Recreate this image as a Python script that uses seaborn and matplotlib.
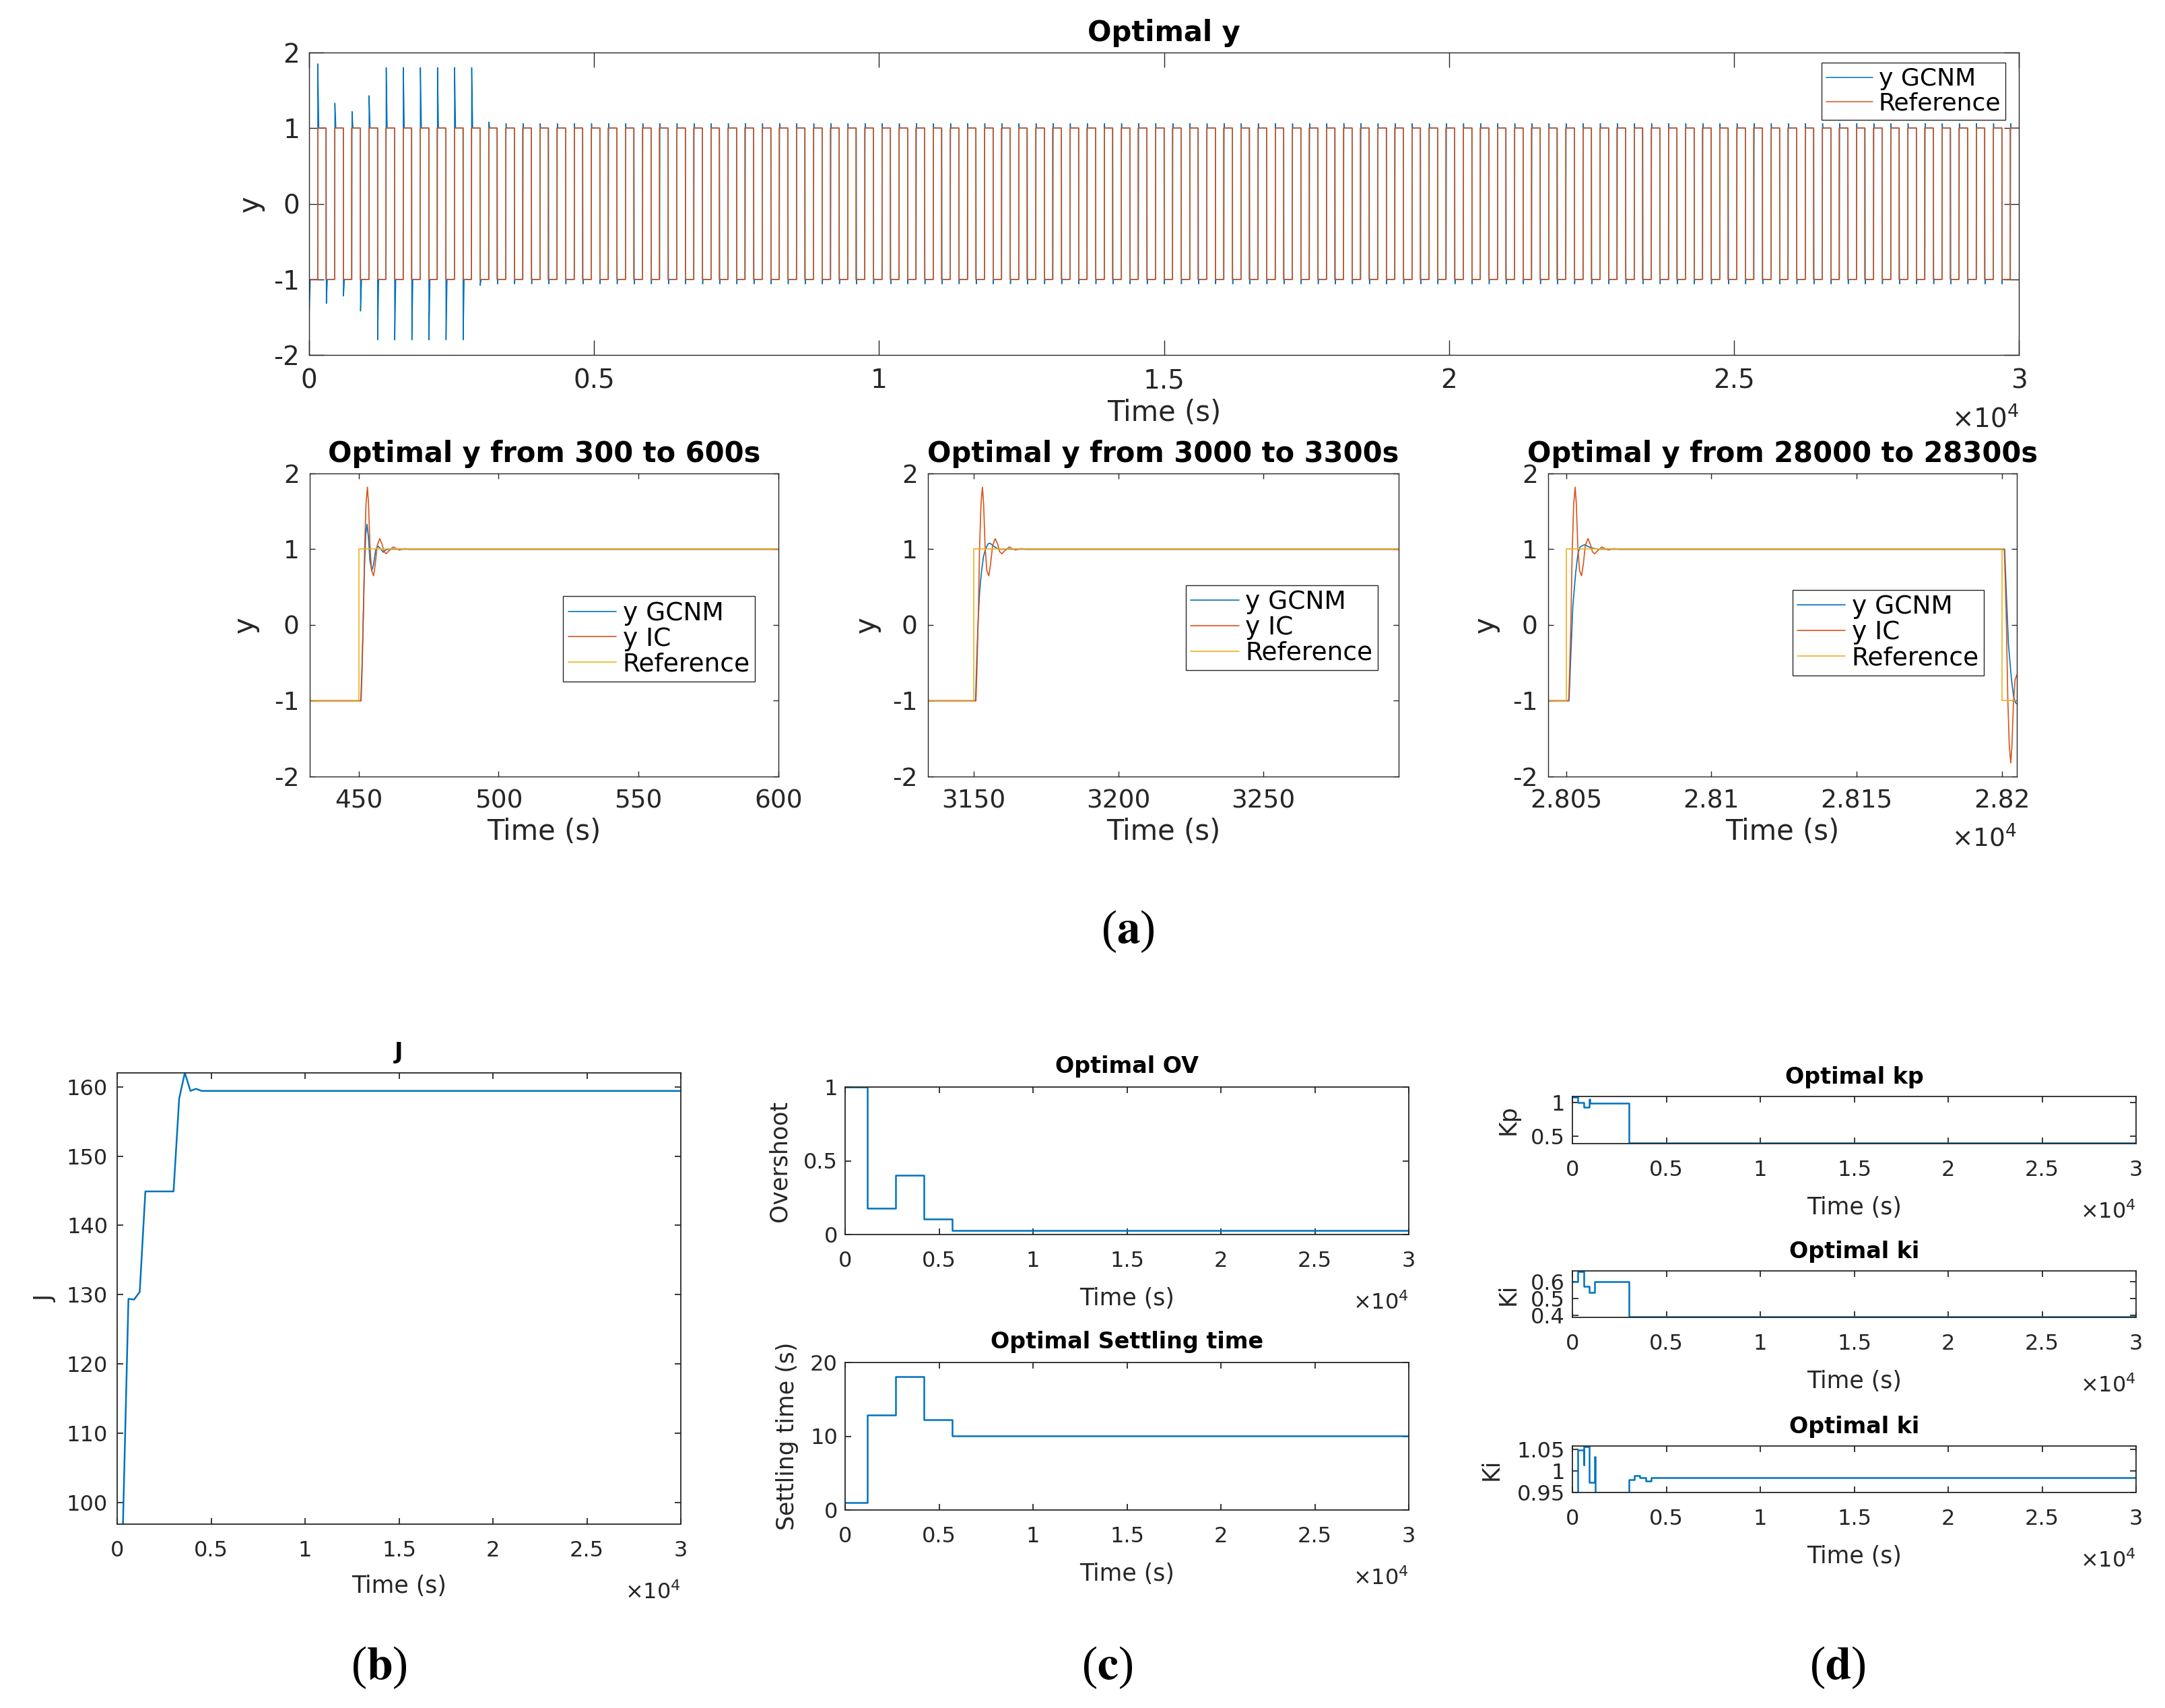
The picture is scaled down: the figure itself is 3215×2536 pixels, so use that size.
import numpy as np
import pandas as pd
import seaborn as sns
import matplotlib.pyplot as plt

BLUE, ORANGE, YELLOW = "#0072BD", "#D95319", "#EDB120"
INK = "#262626"

# ---------------- data ----------------
# reference: square wave starting at -1, toggling every 150 s, up to 30000 s
ref_switch_every = 150
ref_t_end = 30000
ref_first_level = -1

# y GCNM overshoot seen at the switches 150 s, 300 s, ..., 3150 s (top panel)
gcnm_overshoot_early = [0.85, 0.32, 0.33, 0.22, 0.22, 0.42, 0.43,
                        0.80, 0.80, 0.80, 0.80, 0.80, 0.80,
                        0.80, 0.80, 0.80, 0.80, 0.80, 0.80,
                        0.08, 0.08]
gcnm_start = [0.0, -1.43]          # value at t=0 and first undershoot

# step responses: seconds after a -1 -> +1 switch, output value
ic_dt = [0.0, 0.86, 1.2, 1.6, 2.1, 2.6, 3.1, 3.5, 4.0, 4.6, 5.3, 5.9, 6.6,
         7.5, 8.4, 9.0, 9.8, 10.8, 12.3, 13.3, 14.5, 16.5, 18.0]
ic_y = [-1.0, -1.0, -0.6, 0.0, 1.0, 1.6, 1.82, 1.6, 1.05, 0.72, 0.65, 0.8,
        1.05, 1.14, 1.06, 0.97, 0.94, 0.98, 1.03, 1.01, 0.99, 1.01, 1.0]

gcnm450_dt = [0.0, 0.74, 1.2, 1.6, 2.0, 2.5, 2.95, 3.5, 4.0, 4.67, 5.3, 6.1,
              7.0, 7.9, 8.8, 9.6, 10.5]
gcnm450_y = [-1.0, -1.0, -0.5, 0.1, 0.7, 1.2, 1.33, 1.15, 0.85, 0.72, 0.8,
             1.0, 1.04, 1.0, 0.96, 0.99, 1.0]

gcnm3150_dt = [0.0, 0.71, 1.1, 1.54, 2.13, 2.73, 3.44, 4.15, 5.0, 5.7, 7.0, 8.6]
gcnm3150_y = [-1.0, -1.0, -0.5, 0.0, 0.44, 0.69, 0.9, 1.0, 1.07, 1.08, 1.04, 1.0]

# late-run response (also used for every switch after 3150 s in the top panel)
gcnm28050_dt = [0.0, 1.0, 1.6, 2.3, 3.3, 4.1, 4.8, 6.3, 8.5, 11.0]
gcnm28050_y = [-1.0, -1.0, -0.4, 0.25, 0.7, 0.95, 1.03, 1.06, 1.02, 1.0]

zoom_windows = [(300, 600), (3000, 3300), (28000, 28300)]
zoom_switches = [[450], [3150], [28050, 28200]]
zoom_titles = ["Optimal y from 300 to 600s", "Optimal y from 3000 to 3300s",
               "Optimal y from 28000 to 28300s"]
zoom_xticks = [[450, 500, 550, 600], [3150, 3200, 3250],
               [28050, 28100, 28150, 28200]]
zoom_xticklabels = [["450", "500", "550", "600"], ["3150", "3200", "3250"],
                    ["2.805", "2.81", "2.815", "2.82"]]

# cost J (updated every cycle)
J_t = [300, 600, 900, 1200, 1500, 3000, 3300, 3600, 3900, 4200, 4500, 30000]
J_v = [96.0, 129.4, 129.3, 130.4, 144.9, 144.9, 158.3, 162.0, 159.4, 159.7,
       159.4, 159.4]

# stair signals
ov_t = [0, 1200, 2700, 4200, 5700, 30000]
ov_v = [1.0, 0.178, 0.40, 0.107, 0.029, 0.029]
st_t = [0, 1200, 2700, 4200, 5700, 30000]
st_v = [1.0, 12.85, 18.1, 12.2, 10.05, 10.05]
kp_t = [0, 300, 600, 900, 930, 3000, 30000]
kp_v = [1.08, 1.0, 0.93, 1.05, 0.99, 0.40, 0.40]
ki_t = [0, 300, 600, 900, 1200, 3000, 30000]
ki_v = [0.60, 0.66, 0.57, 0.535, 0.60, 0.393, 0.393]
ki2_t = [0, 300, 600, 620, 900, 1200, 1220, 3000, 3300, 3600, 3900, 4200, 30000]
ki2_v = [0.95, 1.048, 1.014, 1.057, 0.973, 1.033, 0.95, 0.980, 0.989, 0.984,
         0.977, 0.984, 0.984]

big_ticks = [0, 5000, 10000, 15000, 20000, 25000, 30000]
big_ticklabels = ["0", "0.5", "1", "1.5", "2", "2.5", "3"]


# ---------------- build series ----------------
def level_at(t):
    k = int(np.floor(t / ref_switch_every + 1e-9))
    return ref_first_level * (-1) ** k


def ref_series(t0, t1):
    ts, ys = [t0], [level_at(t0)]
    t = (t0 // ref_switch_every + 1) * ref_switch_every
    while t < t1:
        ts += [t, t]
        ys += [-level_at(t), level_at(t)]
        t += ref_switch_every
    ts.append(t1)
    ys.append(ys[-1])
    return ts, ys


def response_series(t0, t1, switches, dt, yy):
    ts, ys = [t0], [-level_at(switches[0])]
    for s in switches:
        sign = level_at(s)
        ts += [s + d for d in dt]
        ys += [sign * v for v in yy]
    ts.append(t1)
    ys.append(level_at(switches[-1]))
    return ts, ys


# top panel y GCNM
top_t = [0, 3, 20]
top_y = [gcnm_start[0], gcnm_start[1], ref_first_level]
for k in range(1, ref_t_end // ref_switch_every):
    t0 = k * ref_switch_every
    lev = level_at(t0)
    if k - 1 < len(gcnm_overshoot_early):
        ov = gcnm_overshoot_early[k - 1]
        top_t += [t0, t0 + 3, t0 + 20]
        top_y += [-lev, lev * (1 + ov), lev]
    else:
        top_t += [t0 + d for d in gcnm28050_dt]
        top_y += [lev * v for v in gcnm28050_y]
top_t.append(ref_t_end)
top_y.append(top_y[-1])
top_df = pd.DataFrame({"t": top_t, "y": top_y})
rt, ry = ref_series(0, ref_t_end)
topref_df = pd.DataFrame({"t": rt, "y": ry})

# ---------------- figure ----------------
sns.set_theme(style="ticks")
plt.rcParams["font.family"] = ["DejaVu Sans"]
plt.rcParams["axes.unicode_minus"] = False
plt.rcParams["mathtext.fontset"] = "dejavusans"

W, H = 3215, 2536
fig = plt.figure(figsize=(W / 100, H / 100), dpi=100)
fig.patch.set_facecolor("white")


def px_axes(l, t, r, b):
    return fig.add_axes([l / W, 1 - b / H, (r - l) / W, (b - t) / H])


def style(ax, size, length, lw, xpad, ypad):
    ax.tick_params(direction="in", top=True, right=True, length=length,
                   width=lw, colors=INK, labelsize=size)
    ax.tick_params(axis="x", pad=xpad)
    ax.tick_params(axis="y", pad=ypad)
    for sp in ax.spines.values():
        sp.set_visible(True)
        sp.set_color(INK)
        sp.set_linewidth(lw)
    ax.set_facecolor("white")


def times_ten(ax, offset_px, size):
    ax.annotate(r"$\times10^{4}$", xy=(1.0, 0.0), xycoords="axes fraction",
                xytext=(0, -offset_px * 0.72), textcoords="offset points",
                ha="right", va="center", fontsize=size, color=INK)


def legend(ax, anchor, size):
    leg = ax.legend(loc="upper right", bbox_to_anchor=anchor, fontsize=size,
                    frameon=True, fancybox=False, edgecolor=INK, framealpha=1,
                    borderaxespad=0, handlelength=1.9, handletextpad=0.25,
                    borderpad=0.2, labelspacing=0.05)
    leg.get_frame().set_linewidth(1.0)
    for txt in leg.get_texts():
        txt.set_color("black")


def line(ax, t, y, color, lw, label=None, steps=False):
    kw = dict(drawstyle="steps-post") if steps else {}
    sns.lineplot(x=t, y=y, ax=ax, color=color, linewidth=lw, estimator=None,
                 sort=False, label=label, **kw)


# ---- (a) top: whole run ----
ax = px_axes(459, 78, 2998, 527)
line(ax, top_df["t"], top_df["y"], BLUE, 1.1, "y GCNM")
line(ax, topref_df["t"], topref_df["y"], ORANGE, 1.1, "Reference")
ax.set_xlim(0, 30000)
ax.set_ylim(-2, 2)
ax.set_xticks(big_ticks)
ax.set_xticklabels(big_ticklabels)
ax.set_yticks([-2, -1, 0, 1, 2])
ax.set_yticklabels(["-2", "-1", "0", "1", "2"])
style(ax, 28, 16, 1.0, 14, 10)
ax.set_title("Optimal y", fontsize=30, fontweight="bold", color="black", pad=12)
ax.set_xlabel("Time (s)", fontsize=30, color=INK)
ax.set_ylabel("y", fontsize=30, color=INK)
ax.xaxis.set_label_coords(0.5, -0.145)
ax.yaxis.set_label_coords(-0.026, 0.5)
ax.xaxis.label.set_va("top")
legend(ax, (0.9923, 0.966), 26)
times_ten(ax, 95, 28)

# ---- (a) zoomed windows ----
zoom_boxes = [(460, 703, 1156, 1153), (1378, 703, 2077, 1153), (2299, 703, 2995, 1153)]
zoom_xlims = [(432.5, 600), (3134.3, 3296.7), (28043.8, 28205.2)]
zoom_profiles = [(gcnm450_dt, gcnm450_y), (gcnm3150_dt, gcnm3150_y),
                 (gcnm28050_dt, gcnm28050_y)]
zoom_legend_anchor = [(0.950, 0.595), (0.955, 0.632), (0.930, 0.616)]
zoom_ylabel_x = [-0.108, -0.10, -0.104]
for i in range(3):
    ax = px_axes(*zoom_boxes[i])
    w0, w1 = zoom_windows[i]
    gt, gy = response_series(w0, w1, zoom_switches[i], *zoom_profiles[i])
    it, iy = response_series(w0, w1, zoom_switches[i], ic_dt, ic_y)
    rt, ry = ref_series(w0, w1)
    line(ax, gt, gy, BLUE, 1.2, "y GCNM")
    line(ax, it, iy, ORANGE, 1.2, "y IC")
    line(ax, rt, ry, YELLOW, 1.2, "Reference")
    ax.set_xlim(*zoom_xlims[i])
    ax.set_ylim(-2, 2)
    ax.set_xticks(zoom_xticks[i])
    ax.set_xticklabels(zoom_xticklabels[i])
    ax.set_yticks([-2, -1, 0, 1, 2])
    ax.set_yticklabels(["-2", "-1", "0", "1", "2"])
    style(ax, 27, 6, 1.0, 13, 11)
    ax.set_title(zoom_titles[i], fontsize=30, fontweight="bold", color="black", pad=12)
    ax.set_xlabel("Time (s)", fontsize=30, color=INK)
    ax.set_ylabel("y", fontsize=30, color=INK)
    ax.xaxis.set_label_coords(0.5, -0.135)
    ax.xaxis.label.set_va("top")
    ax.yaxis.set_label_coords(zoom_ylabel_x[i], 0.5)
    legend(ax, zoom_legend_anchor[i], 27)
    if i == 2:
        times_ten(ax, 92, 27)

# ---- (b) J ----
ax = px_axes(174, 1593, 1011, 2263)
line(ax, J_t, J_v, BLUE, 1.8)
ax.set_xlim(0, 30000)
ax.set_ylim(96.9, 162)
ax.set_xticks(big_ticks)
ax.set_xticklabels(big_ticklabels)
ax.set_yticks([100, 110, 120, 130, 140, 150, 160])
ax.set_yticklabels(["100", "110", "120", "130", "140", "150", "160"])
style(ax, 23, 6.5, 1.3, 17, 10)
ax.set_title("J", fontsize=24, fontweight="bold", color="black", pad=15)
ax.set_xlabel("Time (s)", fontsize=25, color=INK)
ax.set_ylabel("J", fontsize=25, color=INK)
ax.xaxis.set_label_coords(0.5, -0.112)
ax.xaxis.label.set_va("top")
ax.yaxis.set_label_coords(-0.106, 0.5)
times_ten(ax, 102, 23)

# ---- (c) overshoot and settling time ----
panels_c = [
    ((1255, 1614, 2092, 1833), ov_t, ov_v, (0, 1), [0, 0.5, 1], ["0", "0.5", "1"],
     "Optimal OV", "Overshoot", -0.096),
    ((1255, 2023, 2092, 2242), st_t, st_v, (0, 20), [0, 10, 20], ["0", "10", "20"],
     "Optimal Settling time", "Settling time (s)", -0.082),
]
# ---- (d) gains ----
panels_d = [
    ((2335, 1628, 3172, 1698), kp_t, kp_v, (0.39, 1.09), [0.5, 1], ["0.5", "1"],
     "Optimal kp", "Kp", -0.094),
    ((2335, 1887, 3172, 1956), ki_t, ki_v, (0.39, 0.6625), [0.4, 0.5, 0.6],
     ["0.4", "0.5", "0.6"], "Optimal ki", "Ki", -0.094),
    ((2335, 2147, 3172, 2216), ki2_t, ki2_v, (0.95, 1.058), [0.95, 1, 1.05],
     ["0.95", "1", "1.05"], "Optimal ki", "Ki", -0.124),
]
for box, tt, vv, ylim, yt, ytl, title, ylab, ylx in panels_c + panels_d:
    ax = px_axes(*box)
    line(ax, tt, vv, BLUE, 1.8, steps=True)
    ax.set_xlim(0, 30000)
    ax.set_ylim(*ylim)
    ax.set_xticks(big_ticks)
    ax.set_xticklabels(big_ticklabels)
    ax.set_yticks(yt)
    ax.set_yticklabels(ytl)
    style(ax, 23, 6.5, 1.3, 17, 8)
    ax.set_title(title, fontsize=24, fontweight="bold", color="black",
                 pad=15 if box[0] < 2000 else 14)
    ax.set_xlabel("Time (s)", fontsize=25, color=INK)
    ax.set_ylabel(ylab, fontsize=25, color=INK)
    hgt = box[3] - box[1]
    ax.xaxis.set_label_coords(0.5, -78 / hgt)
    ax.xaxis.label.set_va("top")
    ax.yaxis.set_label_coords(ylx, 0.5)
    times_ten(ax, 102, 23)

# ---- sub-figure letters ----
for x, y, s in [(1675, 1383, "a"), (563, 2476, "b"), (1644, 2476, "c"), (2729, 2476, "d")]:
    fig.text(x / W, 1 - y / H, "(" + r"$\mathbf{" + s + "}$" + ")", fontsize=50,
             family=["Liberation Serif", "DejaVu Serif"], math_fontfamily="stix",
             ha="center", va="center", color="black")

fig.savefig("out.png", dpi=100, facecolor="white")
